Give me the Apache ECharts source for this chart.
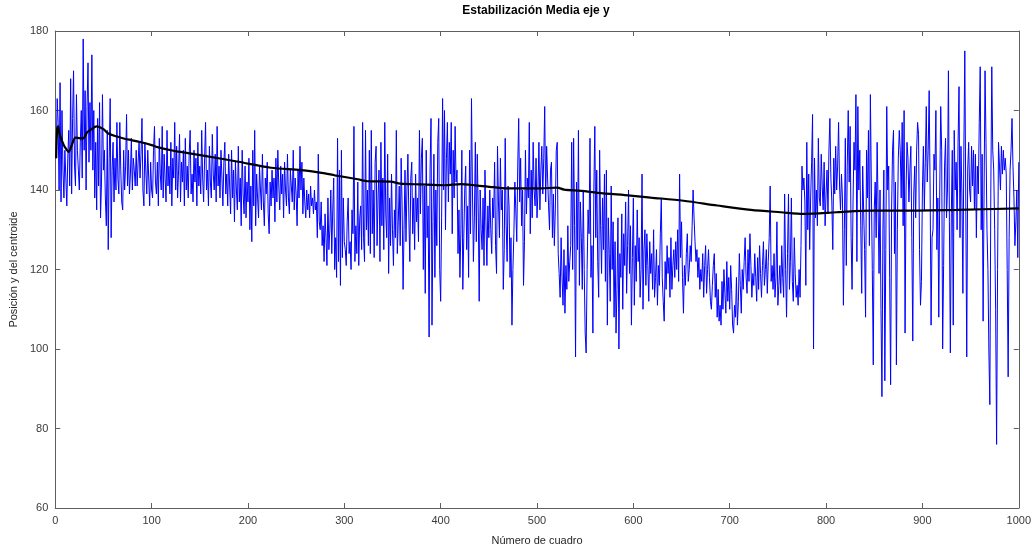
<!DOCTYPE html>
<html>
<head>
<meta charset="utf-8">
<script src="https://cdn.jsdelivr.net/npm/echarts@6/dist/echarts.min.js"></script>
<style>html,body{margin:0;padding:0;background:#fff}#c{width:1034px;height:551px}</style>
</head>
<body>
<div id="c"></div>
<script>
// Blue series: y position of centroid, frames 1..1000
var posY = [
148,163,157,140,167,137,160,145,138,150,143,136,148,155,141,168,139,158,170,146,141,164,150,145,140,
152,160,143,178,150,165,140,161,172,147,162,150,174,145,160,138,152,135,158,141,162,133,142,164,145,
150,138,131,155,125,148,163,128,145,152,137,148,140,157,143,139,157,145,137,135,150,140,146,159,141,
150,139,144,153,140,148,145,141,150,141,147,152,143,149,158,140,136,152,145,139,150,143,136,147,140,
138,150,156,142,139,147,136,153,144,140,156,138,149,143,137,155,141,146,139,152,136,148,143,157,140,
151,138,145,154,137,147,142,150,136,153,140,146,138,149,155,139,144,137,150,142,148,136,152,141,146,
139,155,143,137,148,157,140,145,136,151,142,138,154,144,140,149,137,156,141,146,138,150,143,136,147,
152,139,144,136,149,141,134,150,138,145,132,147,140,135,151,137,143,131,150,139,134,146,133,142,137,
148,130,141,127,150,136,155,131,144,138,133,146,140,135,149,137,131,143,139,147,134,129,142,136,145,
138,143,132,148,137,150,141,135,146,139,144,133,147,140,136,149,138,134,145,141,137,150,135,143,139,
131,145,138,151,140,147,134,143,137,133,140,135,139,133,141,136,138,134,140,135,137,128,149,132,130,
137,126,131,122,134,128,121,138,125,130,140,124,135,143,120,128,118,153,122,145,116,150,123,138,127,
125,121,132,138,124,127,120,135,129,156,122,131,124,142,121,133,136,125,157,128,122,155,130,140,126,
150,124,155,129,140,123,147,151,126,138,145,122,152,131,143,125,157,134,128,149,119,138,126,144,130,
121,135,128,155,124,132,141,126,148,136,115,130,145,127,140,149,133,122,143,147,129,138,125,144,132,
138,127,155,134,148,153,120,141,114,150,128,136,103,145,158,106,132,149,118,140,126,152,158,120,112,
133,163,140,160,130,148,157,137,152,144,157,129,150,138,156,142,145,124,135,118,130,150,115,128,140,
146,125,136,118,150,129,163,140,122,133,152,127,149,135,112,140,130,125,138,121,145,132,121,136,128,
140,130,124,138,133,147,126,119,151,137,128,148,135,140,115,125,153,131,122,141,136,118,128,106,120,
129,142,135,127,146,158,137,148,131,140,116,127,150,134,143,138,157,129,145,133,152,140,136,148,133,
140,152,135,145,151,139,148,161,137,151,143,136,130,145,147,128,139,126,135,150,152,124,119,113,128,
118,111,125,109,121,115,131,117,122,126,152,120,153,131,98,142,125,155,116,137,128,115,140,120,104,
99,120,135,129,153,118,126,104,140,156,128,145,122,113,150,131,119,138,125,144,117,145,106,133,124,
112,141,120,132,108,127,104,115,133,100,124,118,134,110,129,121,137,114,126,140,119,131,106,123,138,
111,126,117,135,122,128,113,120,144,110,125,130,116,129,121,112,127,119,124,115,130,113,118,125,111,
121,116,129,138,118,112,107,122,115,126,119,123,113,128,115,121,125,118,127,120,130,117,144,123,132,
118,109,121,116,124,129,117,120,126,122,131,140,133,127,122,125,118,123,115,120,117,124,113,121,126,
114,120,125,118,112,110,116,121,124,113,119,108,115,107,111,106,117,110,120,114,109,122,112,118,110,
121,115,106,104,111,108,118,106,112,124,116,109,120,115,122,128,118,114,125,117,129,121,113,119,116,
124,118,112,123,115,126,119,113,121,127,116,120,125,114,122,128,141,117,121,115,124,113,118,132,111,
116,121,114,126,118,113,139,120,108,124,139,115,122,138,117,112,128,119,113,116,111,120,113,126,146,
140,143,137,116,152,130,144,125,138,147,159,100,148,133,140,131,153,138,136,149,141,135,147,131,139,
145,134,150,158,143,137,125,148,139,151,140,146,157,141,135,144,138,111,130,153,121,146,160,142,156,
128,115,137,152,145,164,122,161,140,150,131,114,146,135,125,108,150,138,155,126,164,141,120,96,135,
142,128,152,136,119,140,110,88,130,145,92,125,161,140,146,118,91,135,150,155,124,142,96,130,148,
155,150,138,157,131,160,104,140,152,148,137,145,151,128,102,139,146,133,150,157,154,125,111,117,140,
151,135,147,161,142,150,165,140,106,128,130,149,145,160,125,138,108,140,161,150,100,121,146,153,133,
140,170,132,99,134,150,106,155,140,147,130,152,166,128,151,139,114,150,175,137,98,145,152,140,137,
151,141,150,135,149,128,146,139,157,171,130,149,107,140,170,152,130,120,99,86,140,171,150,145,130,
110,76,120,152,146,140,151,144,150,145,148,144,120,93,128,145,150,158,146,138,126,132,140,123,147
];
// Black series: running mean, read at these frames
var meanFrames = [1,2,3,4,6,8,10,14,17,21,26,29,33,37,43,50,55,65,72,80,89,100,106,124,130,155,190,224,255,280,290,314,324,348,358,379,404,421,438,455,473,504,521,528,546,563,597,618,652,687,722,753,777,811,846,877,936,1000];
var meanVals = [148,155.5,156,154.5,152.9,151.8,150.8,149.6,151.2,153.2,153,153,154.5,155.2,156,155.3,154.2,153.4,152.9,152.5,152,151.3,150.8,149.8,149.6,148.6,147.1,145.6,145,144.2,143.7,142.7,142.2,142.1,141.6,141.4,141.2,141.5,141.1,140.7,140.4,140.4,140.6,140.1,139.8,139.3,138.6,138.1,137.3,136.1,135,134.4,134,134.4,134.8,134.8,135,135.4];
var xTicks = {min:0, max:1000, step:100};
var yTicks = {min:60, max:180, step:20};
var titleText = 'Estabilización Media eje y';
var xName = 'Número de cuadro';
var yName = 'Posición y del centroide';

var blueData = posY.map(function(v,i){return [i+1, v];});
var meanData = meanFrames.map(function(f,i){return [f, meanVals[i]];});

var FONT = 'Liberation Sans, Arial, Helvetica, sans-serif';
var AX = '#5f5f5f';
function axisBase(pos, t, showLabel){
  return {
    type:'value', position:pos, min:t.min, max:t.max, interval:t.step,
    axisLine:{show:true, onZero:false, lineStyle:{color:AX, width:1}},
    axisTick:{show:true, inside:true, length:5, lineStyle:{color:AX, width:1}},
    axisLabel:{show:showLabel, color:'#3a3a3a', fontFamily:FONT, fontSize:11, margin:7,
      formatter:function(v){return String(v);}},
    splitLine:{show:false}
  };
}
var x0 = axisBase('bottom', xTicks, true);
x0.name = xName; x0.nameLocation='middle'; x0.nameGap=27;
x0.nameTextStyle = {color:'#262626', fontFamily:FONT, fontSize:11};
var x1 = axisBase('top', xTicks, false);
var y0 = axisBase('left', yTicks, true);
y0.name = yName; y0.nameLocation='middle'; y0.nameGap=29; y0.nameRotate=90;
y0.nameTextStyle = {color:'#262626', fontFamily:FONT, fontSize:11};
var y1 = axisBase('right', yTicks, false);

var chart = echarts.init(document.getElementById('c'), null, {renderer:'canvas'});
chart.setOption({
  animation:false,
  backgroundColor:'#ffffff',
  grid:{left:54, right:15, top:31, bottom:38, containLabel:false},
  graphic:[{type:'text', x:536, y:5, style:{text:titleText, font:'bold 12px '+FONT, fill:'#000', textAlign:'center', textVerticalAlign:'top'}}],
  xAxis:[x0, x1],
  yAxis:[y0, y1],
  series:[
    {type:'line', xAxisIndex:0, yAxisIndex:0, data:blueData, showSymbol:false, symbol:'none',
     lineStyle:{color:'#0000ff', width:1}, z:2, silent:true},
    {type:'line', xAxisIndex:0, yAxisIndex:0, data:meanData, showSymbol:false, symbol:'none', smooth:0.3,
     lineStyle:{color:'#000000', width:2.2}, z:3, silent:true}
  ]
});
</script>
</body>
</html>
